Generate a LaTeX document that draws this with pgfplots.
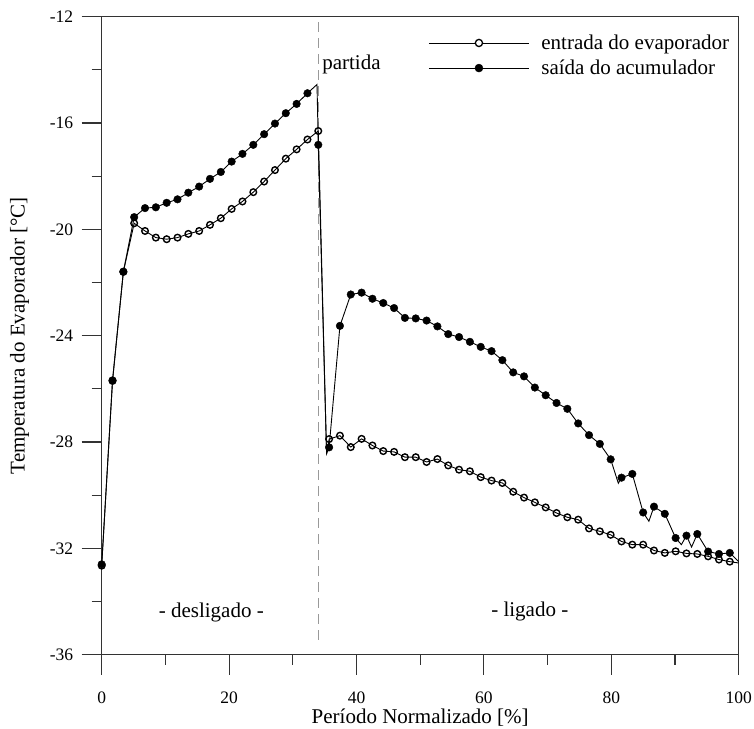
\documentclass[border=0pt]{standalone}
\usepackage{fontspec}
\setmainfont{Liberation Serif}
\usepackage{pgfplots}
\pgfplotsset{compat=1.18}
\usepackage{pgfplotstable}

\newcommand\ticksize{\fontsize{17.5}{20}\selectfont}
\newcommand\labsize{\fontsize{21}{25}\selectfont}

% entrada do evaporador (m=1 -> marker drawn)
\pgfplotstableread{
x y m
0.0 -32.65 1
1.7 -25.70 1
3.4 -21.60 1
5.1 -19.77 1
6.8 -20.06 1
8.5 -20.31 1
10.2 -20.37 1
11.9 -20.31 1
13.6 -20.17 1
15.3 -20.06 1
17.0 -19.83 1
18.7 -19.58 1
20.4 -19.23 1
22.1 -18.95 1
23.8 -18.60 1
25.5 -18.20 1
27.2 -17.77 1
28.9 -17.34 1
30.6 -16.99 1
32.3 -16.62 1
34.0 -16.30 1
35.3 -28.44 0
35.7 -27.89 1
37.4 -27.76 1
39.1 -28.19 1
40.8 -27.88 1
42.5 -28.13 1
44.2 -28.34 1
45.9 -28.37 1
47.6 -28.57 1
49.3 -28.57 1
51.0 -28.75 1
52.7 -28.64 1
54.4 -28.88 1
56.1 -29.04 1
57.8 -29.10 1
59.5 -29.32 1
61.2 -29.45 1
62.9 -29.54 1
64.6 -29.87 1
66.3 -30.09 1
68.0 -30.27 1
69.7 -30.46 1
71.4 -30.67 1
73.1 -30.83 1
74.8 -30.92 1
76.5 -31.25 1
78.2 -31.36 1
79.9 -31.49 1
81.6 -31.74 1
83.3 -31.86 1
85.0 -31.86 1
86.7 -32.08 1
88.4 -32.17 1
90.1 -32.11 1
91.8 -32.19 1
93.5 -32.21 1
95.2 -32.30 1
96.9 -32.42 1
98.6 -32.50 1
100.0 -32.55 0
}\entrada

% saida do acumulador
\pgfplotstableread{
x y m
0.0 -32.60 1
1.7 -25.68 1
3.4 -21.59 1
5.1 -19.54 1
6.8 -19.20 1
8.5 -19.17 1
10.2 -19.00 1
11.9 -18.87 1
13.6 -18.62 1
15.3 -18.39 1
17.0 -18.10 1
18.7 -17.84 1
20.4 -17.45 1
22.1 -17.16 1
23.8 -16.82 1
25.5 -16.42 1
27.2 -16.02 1
28.9 -15.63 1
30.6 -15.28 1
32.3 -14.88 1
33.8 -14.55 0
34.0 -16.82 1
35.3 -28.44 0
35.7 -28.20 1
37.4 -23.63 1
39.1 -22.45 1
40.8 -22.38 1
42.5 -22.61 1
44.2 -22.77 1
45.9 -22.96 1
47.6 -23.33 1
49.3 -23.35 1
51.0 -23.43 1
52.7 -23.65 1
54.4 -23.94 1
56.1 -24.05 1
57.8 -24.23 1
59.5 -24.42 1
61.2 -24.58 1
62.9 -24.92 1
64.6 -25.38 1
66.3 -25.53 1
68.0 -25.95 1
69.7 -26.24 1
71.4 -26.53 1
73.1 -26.75 1
74.8 -27.30 1
76.5 -27.74 1
78.2 -28.07 1
79.9 -28.65 1
81.1 -29.55 0
81.6 -29.34 1
83.3 -29.20 1
85.0 -30.65 1
85.9 -30.98 0
86.7 -30.43 1
88.4 -30.70 1
90.1 -31.61 1
91.0 -31.86 0
91.8 -31.52 1
92.6 -31.95 0
93.5 -31.46 1
95.2 -32.12 1
96.9 -32.21 1
98.6 -32.17 1
100.0 -32.50 0
}\saida

\begin{document}
\begin{tikzpicture}
\useasboundingbox (-101.7pt,-74pt) rectangle (652.3pt,654.7pt);
\begin{axis}[
  at={(0,0)}, anchor=south west,
  scale only axis, width=637pt, height=638pt,
  xmin=0, xmax=100, ymin=-36, ymax=-12,
  xtick={0,20,...,100}, minor xtick={10,30,50,70,90},
  ytick={-36,-32,...,-12}, minor ytick={-34,-30,...,-14},
  xticklabels={0,20,40,60,80,100},
  yticklabels={-36,-32,-28,-24,-20,-16,-12},
  xtick pos=left, ytick pos=left, tick align=outside,
  major tick length=20pt, minor tick length=10pt,
  every tick/.style={black!80, line width=1.1pt},
  axis line style={black!80, line width=1.2pt},
  tick label style={font=\ticksize},
  xticklabel style={yshift=-14pt},
  yticklabel style={xshift=-5pt},
  xlabel={Período Normalizado [\%]},
  ylabel={Temperatura do Evaporador [°C]},
  every axis x label/.style={at={(axis description cs:0.5,-0.099)}, anchor=center, font=\labsize},
  every axis y label/.style={at={(axis description cs:-0.129,0.5)}, rotate=90, anchor=center, font=\labsize},
  legend style={at={(axis description cs:0.508,0.978)}, anchor=north west,
    draw=none, fill=none, font=\labsize, row sep=5pt,
    nodes={inner sep=2pt},
    /tikz/every odd column/.append style={column sep=10pt}},
  legend cell align=left,
]
% marcador de partida
\addplot[gray!80, line width=1.2pt, dash pattern=on 10pt off 6pt, forget plot]
  coordinates {(34,-12.2) (34,-35.65)};

\addplot[black, line width=0.9pt, forget plot] table[x=x,y=y] {\entrada};
\addplot[only marks, mark=o, mark size=3.3pt, mark options={line width=1.4pt, black},
  restrict expr to domain={\thisrow{m}}{0.5:1.5},
  legend image code/.code={
    \draw[black, line width=0.9pt] (0pt,0pt) -- (100pt,0pt);
    \draw[black, line width=1.3pt, fill=white] (50pt,0pt) circle (3.6pt);}]
  table[x=x,y=y] {\entrada};
\addlegendentry{entrada do evaporador}

\addplot[black, line width=0.9pt, forget plot] table[x=x,y=y] {\saida};
\addplot[only marks, mark=*, mark size=3.8pt, mark options={black},
  restrict expr to domain={\thisrow{m}}{0.5:1.5},
  legend image code/.code={
    \draw[black, line width=0.9pt] (0pt,0pt) -- (100pt,0pt);
    \fill[black] (50pt,0pt) circle (4pt);}]
  table[x=x,y=y] {\saida};
\addlegendentry{saída do acumulador}

\node[anchor=west, inner sep=0pt, font=\labsize] at (axis cs:34.6,-13.78) {partida};
\node[font=\labsize] at (axis cs:17.2,-34.42) {- desligado -};
\node[font=\labsize] at (axis cs:67.2,-34.36) {- ligado -};
\end{axis}
\end{tikzpicture}
\end{document}
